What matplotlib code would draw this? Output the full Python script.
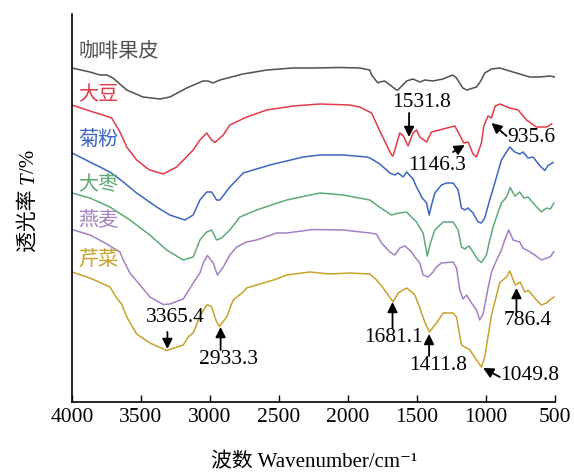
import matplotlib
matplotlib.use('Agg')
import matplotlib.pyplot as plt

plt.rcParams['font.family'] = ['Liberation Serif', 'Noto Sans CJK SC', 'DejaVu Serif']
plt.rcParams['axes.unicode_minus'] = False

# ---------------- data (wavenumber, transmittance in arbitrary stacked units) ----------------
coffee_wn = [4000, 3870, 3797, 3748, 3703, 3603, 3485, 3362, 3290, 3168, 3050, 3014, 2978, 2927,
             2760, 2586, 2398, 2253, 2057, 1912, 1840, 1827, 1781, 1767, 1731, 1646, 1636, 1573,
             1528, 1477, 1441, 1383, 1310, 1238, 1211, 1165, 1136, 1066, 1035, 1006, 957, 897,
             825, 752, 680, 607, 535, 498]
coffee_t = [334, 330, 327, 327, 324, 312, 305, 303, 305, 314, 321, 321, 319, 322,
            328, 332, 334, 334, 334.5, 334, 332, 327, 319, 320, 321, 312, 312, 321,
            323, 320, 322, 321, 323, 327, 324, 314, 312, 315, 321, 329, 333, 334,
            331, 328, 325, 325, 326, 325]

soy_wn = [4000, 3848, 3775, 3712, 3652, 3603, 3531, 3458, 3435, 3338, 3241, 3121, 3072, 3023,
          2987, 2963, 2903, 2855, 2733, 2588, 2396, 2202, 1985, 1912, 1827, 1767, 1718, 1682,
          1671, 1622, 1598, 1562, 1526, 1501, 1477, 1428, 1392, 1308, 1223, 1199, 1158, 1127,
          1091, 1066, 1030, 1013, 982, 957, 930, 897, 825, 764, 703, 631, 559, 520]
soy_t = [297, 290, 287, 284, 270, 255, 242, 234, 232, 228, 235, 252, 262, 269,
         262, 259.5, 267, 277, 285, 292, 296, 298, 297, 295, 289, 271, 257, 247,
         246, 269, 266.5, 256, 269, 272, 265, 260, 270, 273, 276, 270, 259, 260,
         248, 245, 259, 276, 286, 284, 296, 298, 294, 292, 282, 275, 275, 278]

inulin_wn = [4000, 3870, 3725, 3628, 3531, 3386, 3290, 3181, 3121, 3072, 3023, 2987, 2951, 2927,
             2855, 2758, 2565, 2323, 2202, 2033, 1863, 1839, 1767, 1694, 1658, 1634, 1598, 1573,
             1526, 1501, 1477, 1465, 1428, 1409, 1392, 1368, 1320, 1283, 1235, 1199, 1175, 1151,
             1127, 1091, 1054, 1030, 1006, 970, 933, 885, 825, 788, 752, 728, 692, 656, 607,
             571, 547, 510]
inulin_t = [249, 240, 230, 220, 209, 195, 187, 182, 187, 202, 210, 210, 202, 202,
            215, 229, 237, 245, 247, 247, 245, 244, 238, 229, 227, 229, 225, 230,
            223, 215, 209, 205, 199, 187, 197, 209, 217, 219, 219, 212, 194, 192,
            194, 189, 180, 179, 184, 202, 219, 242, 255, 250, 248, 250, 244, 245, 236.5,
            231.5, 236.5, 239.5]

jujube_wn = [4000, 3870, 3725, 3580, 3435, 3313, 3193, 3121, 3072, 3023, 2987, 2951, 2915, 2855,
             2782, 2661, 2443, 2202, 2033, 1839, 1781, 1682, 1646, 1573, 1537, 1501, 1453, 1423,
             1400, 1368, 1308, 1235, 1199, 1175, 1151, 1120, 1091, 1054, 1030, 994, 970, 945,
             921, 885, 848, 821, 788, 752, 723, 692, 656, 595, 559, 530, 505]
jujube_t = [209, 204, 195, 182, 167, 152, 142, 145, 162, 170, 172, 162, 164, 172,
            185, 192, 202, 209, 207, 202, 196, 187, 188.5, 190, 185, 180, 169, 146,
            159, 172, 180, 180, 172, 155, 153, 156, 150, 142, 139.5, 147, 162, 175,
            185, 199, 205, 214.5, 206, 210, 204, 205, 199, 190, 194, 193, 199]

oat_wn = [4000, 3870, 3773, 3652, 3628, 3580, 3531, 3435, 3338, 3290, 3193, 3121, 3072, 3048,
          3018, 2976, 2945, 2903, 2855, 2806, 2733, 2661, 2516, 2443, 2251, 2033, 1839, 1791,
          1755, 1694, 1658, 1622, 1585, 1537, 1513, 1477, 1453, 1417, 1381, 1356, 1320, 1235,
          1211, 1187, 1163, 1138, 1102, 1066, 1042, 1018, 982, 957, 926, 885, 861, 832, 800,
          752, 728, 680, 643, 595, 559, 530, 505]
oat_t = [172.5, 167, 160, 150, 142, 129, 121, 105, 97.5, 98, 103, 119, 129, 139,
         146.5, 139, 127, 135, 147, 155, 160, 162, 169, 169, 172.5, 172, 169, 168,
         159, 150, 147, 154, 156, 150, 145, 139, 127, 125, 130, 135, 139, 140,
         134, 112, 103, 107, 99, 92, 82, 88, 114, 130, 140, 152, 162, 172, 162,
         160, 153.7, 150.3, 147, 142, 143.7, 145.3, 150.3]

celery_wn = [4000, 3870, 3773, 3725, 3676, 3640, 3603, 3531, 3435, 3313, 3193, 3157, 3121, 3072,
             3023, 3012, 2987, 2951, 2931, 2878, 2831, 2758, 2733, 2613, 2516, 2443, 2275, 2130,
             1985, 1839, 1791, 1743, 1707, 1671, 1634, 1573, 1526, 1513, 1477, 1441, 1408, 1356,
             1308, 1235, 1211, 1175, 1151, 1114, 1066, 1030, 1006, 957, 897, 848, 825, 785,
             749, 716, 692, 680, 631, 595, 559, 535, 505]
celery_t = [130, 124, 118, 115, 104, 98, 85, 68, 59, 51.5, 57, 65, 69, 86,
            97, 97, 95, 80, 75.5, 85, 102, 110, 114, 119, 123, 127, 130, 128,
            129, 128, 122, 114, 107, 100, 109, 114, 109, 107, 94, 80, 70, 79,
            89, 89, 85, 57, 55, 52, 42, 35, 45, 87, 119.5, 125, 131, 117,
            120, 110, 111.5, 110, 102, 97, 99, 102, 105]

series_names = ['咖啡果皮', '大豆', '菊粉', '大枣', '燕麦', '芹菜']
series_wn = [coffee_wn, soy_wn, inulin_wn, jujube_wn, oat_wn, celery_wn]
series_t = [coffee_t, soy_t, inulin_t, jujube_t, oat_t, celery_t]

x_ticks = [4000, 3500, 3000, 2500, 2000, 1500, 1000, 500]

peak_labels = ['1531.8', '1146.3', '935.6', '3365.4', '2933.3', '1681.1', '1411.8', '1049.8', '786.4']

# ---------------- styles / layout ----------------
colors = ['#505050', '#e23a48', '#3d66c2', '#5dab76', '#a57fc4', '#c9a12b']
name_pos_t = [351, 307, 263, 217, 181, 142]
# (text_x, text_y, tail_x, tail_y, tip_x, tip_y) in data coordinates
peak_layout = [
    (1465, 300, 1555, 289, 1555, 265),
    (1350, 237, 1236, 250, 1151, 257),
    (667, 265, 848, 266, 957, 279),
    (3247, 84, 3308, 70, 3308, 53),
    (2867, 42, 2922, 52, 2922, 75),
    (1671, 64.5, 1675, 74, 1675, 100),
    (1344, 36.5, 1410, 46, 1410, 68),
    (680, 26.5, 897, 25, 1018, 34),
    (692, 81.5, 776, 90, 776, 114),
]

W, H = 574, 473
fig = plt.figure(figsize=(W / 100, H / 100), dpi=100)
ax = fig.add_axes([72 / W, 1 - 402 / H, (554.5 - 72) / W, (402 - 14) / H])

for wn, t, c in zip(series_wn, series_t, colors):
    ax.plot(wn, t, color=c, lw=1.1, solid_joinstyle='round')

for name, ty, c in zip(series_names, name_pos_t, colors):
    ax.text(3955, ty, name, color=c, fontsize=14.5, ha='left', va='center',
            family=['Noto Sans CJK SC', 'Liberation Serif'])

for lab, (tx, ty, ax0, ay0, ax1, ay1) in zip(peak_labels, peak_layout):
    ax.text(tx, ty, lab, fontsize=15.5, ha='center', va='center', color='black')
    ax.annotate('', xy=(ax1, ay1), xytext=(ax0, ay0),
                arrowprops=dict(arrowstyle='-|>', color='black', lw=1.3,
                                mutation_scale=15, shrinkA=0, shrinkB=0))

ax.set_xlim(4000, 500)
ax.set_ylim(0, 388)
ax.set_xticks(x_ticks)
ax.set_xticklabels([str(v) for v in x_ticks])
ax.set_yticks([])
ax.tick_params(axis='x', direction='in', length=5, width=1, labelsize=15.5, pad=4)
for s in ['top', 'right']:
    ax.spines[s].set_visible(False)
for s in ['left', 'bottom']:
    ax.spines[s].set_linewidth(1.2)

# x label
fig.text(314 / W, 1 - 463 / H, '波数 Wavenumber/cm⁻¹', fontsize=15, ha='center', va='center')

# y label built from pieces (italic T)
fig.canvas.draw()
renderer = fig.canvas.get_renderer()
pieces = [('透光率 ', 'normal'), ('T', 'italic'), ('/%', 'normal')]
ybase = (H - 252)
xbase = 34
for txt, style in pieces:
    t = fig.text(xbase / W, ybase / H, txt, fontsize=15, rotation=90, rotation_mode='anchor',
                 ha='left', va='baseline', style=style)
    bb = t.get_window_extent(renderer)
    ybase += bb.height

fig.savefig('out.png', dpi=100)
